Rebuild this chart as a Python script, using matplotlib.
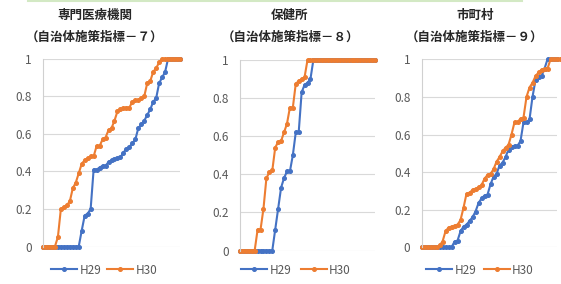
import matplotlib
matplotlib.use("Agg")
import matplotlib.pyplot as plt
from matplotlib.lines import Line2D
from matplotlib.ticker import FuncFormatter

plt.rcParams['font.family'] = ['Noto Sans CJK JP', 'DejaVu Sans']

# sorted per-prefecture values (47 prefectures)
titles = ["専門医療機関", "保健所", "市町村"]
subtitles = ["（自治体施策指標－７）", "（自治体施策指標－８）", "（自治体施策指標－９）"]
series_names = ["H29", "H30"]

h29_med = [0]*13 + [0.085, 0.165, 0.175, 0.2, 0.41, 0.41, 0.42, 0.43, 0.43, 0.45, 0.46,
                    0.465, 0.47, 0.475, 0.5, 0.52, 0.53, 0.55, 0.57, 0.63, 0.65, 0.67,
                    0.7, 0.73, 0.77, 0.79, 0.87, 0.9, 0.93] + [1.0]*5
h30_med = [0]*5 + [0.05, 0.2, 0.21, 0.22, 0.24, 0.31, 0.34, 0.39, 0.44, 0.46, 0.47, 0.48,
                   0.48, 0.535, 0.535, 0.57, 0.58, 0.62, 0.63, 0.67, 0.72, 0.73, 0.735,
                   0.74, 0.74, 0.77, 0.78, 0.78, 0.79, 0.8, 0.87, 0.88, 0.93, 0.95,
                   0.98] + [1.0]*7

h29_hc = [0]*12 + [0.11, 0.22, 0.33, 0.38, 0.415, 0.415, 0.5, 0.62, 0.62, 0.83, 0.87,
                   0.88, 0.9] + [1.0]*22
h30_hc = [0]*6 + [0.11, 0.11, 0.22, 0.38, 0.41, 0.42, 0.54, 0.57, 0.575, 0.62, 0.665,
                  0.75, 0.75, 0.875, 0.89, 0.9, 0.91] + [1.0]*24

h29_city = [0]*11 + [0.03, 0.035, 0.085, 0.11, 0.12, 0.14, 0.16, 0.19, 0.235, 0.26,
                     0.275, 0.28, 0.335, 0.375, 0.39, 0.435, 0.45, 0.48, 0.52, 0.535,
                     0.54, 0.54, 0.565, 0.665, 0.665, 0.68, 0.8, 0.89, 0.905, 0.91,
                     0.95] + [1.0]*4
h30_city = [0]*6 + [0.01, 0.03, 0.085, 0.105, 0.11, 0.115, 0.12, 0.145, 0.21, 0.285,
                    0.29, 0.305, 0.31, 0.32, 0.33, 0.365, 0.385, 0.39, 0.415, 0.455,
                    0.48, 0.51, 0.53, 0.545, 0.6, 0.665, 0.665, 0.685, 0.69, 0.8,
                    0.85, 0.875, 0.91, 0.93, 0.945, 0.95, 0.95] + [1.0]*4

data = [(h29_med, h30_med), (h29_hc, h30_hc), (h29_city, h30_city)]
colors = ["#4472C4", "#ED7D31"]

W, H = 561, 284
fig = plt.figure(figsize=(W/100, H/100), dpi=100)

# axes boxes in pixels: left, right, top, bottom
boxes = [(43, 180, 58.7, 246.5), (240, 375, 60, 250.5), (421.5, 556.5, 59.3, 247.3)]
title_x = [95, 290, 475]
legend_x = [104, 296, 480]
legend_gap = [0.5, 0.8, 0.6]

fig.add_artist(Line2D([28/W, 522/W], [1 - 1/H, 1 - 1/H], color="#d3e9c4", lw=1.5))

for k, (l, r, t, b) in enumerate(boxes):
    ax = fig.add_axes([l/W, 1 - b/H, (r - l)/W, (b - t)/H])
    for s, vals in enumerate(data[k]):
        ax.plot(range(len(vals)), vals, color=colors[s], lw=1.5, marker="o",
                markersize=2.6, label=series_names[s], clip_on=False)
    ax.set_xlim(0, len(data[k][0]) - 1)
    ax.set_ylim(0, 1)
    ax.set_yticks([0, 0.2, 0.4, 0.6, 0.8, 1])
    ax.yaxis.set_major_formatter(FuncFormatter(lambda v, p: f"{v:g}"))
    ax.set_xticks([])
    ax.tick_params(axis="y", length=0, pad=8, labelsize=8.5, labelcolor="#595959")
    ax.grid(axis="y", color="#d9d9d9", lw=0.8)
    ax.set_axisbelow(True)
    for side in ["top", "right", "bottom"]:
        ax.spines[side].set_visible(False)
    ax.spines["left"].set_color("#d0d0d0")
    fig.text(title_x[k]/W, 1 - 15/H, titles[k], ha="center", va="center",
             fontsize=9, fontweight="bold", color="#262626")
    fig.text(title_x[k]/W, 1 - 37/H, subtitles[k], ha="center", va="center",
             fontsize=9, fontweight="bold", color="#262626")
    ax.legend(loc="center", bbox_to_anchor=(legend_x[k]/W, 1 - 270/H),
              bbox_transform=fig.transFigure, ncol=2, frameon=False,
              fontsize=8.5, labelcolor="#595959", handlelength=2.2,
              handletextpad=0.2, columnspacing=legend_gap[k], markerscale=1.0)

fig.savefig("out.png", dpi=100)
